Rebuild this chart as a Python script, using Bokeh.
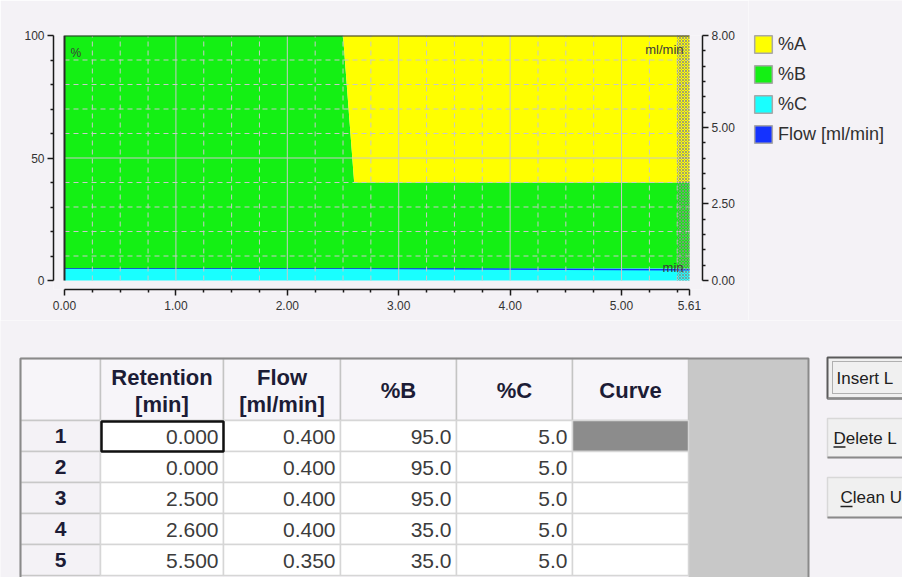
from bokeh.plotting import figure
from bokeh.models import (Range1d, LinearAxis, FixedTicker, PrintfTickFormatter,
                          Legend, LegendItem, Label, ColumnDataSource, Plot)
from bokeh.layouts import column, row
from bokeh.embed import file_html
from bokeh.resources import INLINE
from bokeh.core.properties import value

# ---------------- data ----------------
retention = [0.000, 0.000, 2.500, 2.600, 5.500]
flow = [0.400, 0.400, 0.400, 0.400, 0.350]
pct_b = [95.0, 95.0, 95.0, 35.0, 35.0]
pct_c = [5.0, 5.0, 5.0, 5.0, 5.0]
curve = ["", "", "", "", ""]
end_time = 5.61
pct_max = 100.0
flow_max = 8.0

series_names = ["%A", "%B", "%C", "Flow [ml/min]"]
header_labels = ["", "Retention\n[min]", "Flow\n[ml/min]", "%B", "%C", "Curve"]
button_labels = ["Insert L", "Delete L", "Clean U"]

x_ticks = [0, 1, 2, 3, 4, 5, 5.61]
x_grid = [1, 2, 3, 4, 5]
x_minor = [0.25, 0.5, 0.75, 1.25, 1.5, 1.75, 2.25, 2.5, 2.75, 3.25, 3.5, 3.75,
           4.25, 4.5, 4.75, 5.25, 5.5]
y_ticks = [0, 50, 100]
y_grid = [50]
y_minor = [10, 20, 30, 40, 60, 70, 80, 90]
flow_ticks = [0, 2.5, 5.0, 8.0]
flow_minor = [0.5, 1.0, 1.5, 2.0, 3.0, 3.5, 4.0, 4.5, 5.5, 6.0, 6.5, 7.0, 7.5]

# ---------------- styles / layout ----------------
BG = "#F4F2F6"
C_A, C_B, C_C, C_FLOW = "#FFFF00", "#14F014", "#19FFFF", "#1432FF"
GRID = "#C8C8C8"
FONT = value("Liberation Sans")
NAN = float("nan")
W = 902
H1 = 320
H2 = 577 - H1
W1 = 748
frame_left, frame_right = 53, 702
frame_top, frame_bottom = 35, 289
pad_left, pad_right, pad_bottom = 11, 13, 9
data_w = (frame_right - frame_left) - pad_left - pad_right
ppu_x = data_w / end_time
x_lo = -pad_left / ppu_x
x_hi = end_time + pad_right / ppu_x
data_h = (frame_bottom - frame_top) - pad_bottom
ppu_y = data_h / pct_max
y_lo = -pad_bottom / ppu_y

# extend to end time holding last values
t = retention + [end_time]
fl = flow + [flow[-1]]
b = pct_b + [pct_b[-1]]
c = pct_c + [pct_c[-1]]
b_top = [ci + bi for ci, bi in zip(c, b)]
src = ColumnDataSource(dict(t=t, zero=[0] * len(t), c_top=c, b_top=b_top,
                            a_top=[pct_max] * len(t), flow=fl))

p1 = figure(width=W1, height=H1, x_range=Range1d(x_lo, x_hi),
            y_range=Range1d(y_lo, pct_max), output_backend="svg",
            toolbar_location=None, min_border_left=frame_left,
            min_border_right=W1 - frame_right, min_border_top=frame_top,
            min_border_bottom=H1 - frame_bottom, background_fill_color=BG,
            border_fill_color=BG, outline_line_color=None)
p1.extra_y_ranges = {"flow": Range1d(y_lo * flow_max / pct_max, flow_max)}
p1.grid.visible = False

p1.varea(x="t", y1="zero", y2="c_top", source=src, fill_color=C_C)
p1.line(x="t", y="flow", source=src, line_color=C_FLOW, line_width=1.5,
        y_range_name="flow")
p1.varea(x="t", y1="c_top", y2="b_top", source=src, fill_color=C_B)
p1.varea(x="t", y1="b_top", y2="a_top", source=src, fill_color=C_A)

# grid lines limited to the data area
p1.segment(x0=x_grid, x1=x_grid, y0=[0] * len(x_grid), y1=[pct_max] * len(x_grid),
           line_color=GRID, line_width=1)
p1.segment(x0=x_minor, x1=x_minor, y0=[0] * len(x_minor), y1=[pct_max] * len(x_minor),
           line_color=GRID, line_width=1, line_dash="5 4")
p1.segment(x0=[0] * len(y_grid), x1=[end_time] * len(y_grid), y0=y_grid, y1=y_grid,
           line_color=GRID, line_width=1)
p1.segment(x0=[0] * len(y_minor), x1=[end_time] * len(y_minor), y0=y_minor, y1=y_minor,
           line_color=GRID, line_width=1, line_dash="5 4")

# post-run hatched region
p1.quad(left=[retention[-1]], right=[end_time], bottom=[0], top=[pct_max],
        fill_alpha=0, line_alpha=0, hatch_pattern="diagonal_cross",
        hatch_color="#8A8A8A", hatch_scale=3, hatch_weight=1, hatch_alpha=0.8)

# plot box border (left & top)
p1.line(x=[retention[0], retention[0], end_time], y=[0, pct_max, pct_max],
        line_color="#2A2A2A", line_width=2)

def style_axis(ax):
    ax.axis_line_color = "#1A1A1A"
    ax.axis_line_width = 1.5
    ax.major_tick_line_color = "#1A1A1A"
    ax.minor_tick_line_color = "#1A1A1A"
    ax.major_tick_line_width = 1.5
    ax.minor_tick_line_width = 1.5
    ax.major_tick_out = 6
    ax.major_tick_in = 0
    ax.minor_tick_out = 3
    ax.minor_tick_in = 0
    ax.major_label_text_font = "Liberation Sans"
    ax.major_label_text_font_size = "12px"
    ax.major_label_text_color = "#333333"
    ax.major_label_standoff = 3

xax = p1.below[0]
xax.ticker = FixedTicker(ticks=x_ticks, minor_ticks=x_minor)
xax.formatter = PrintfTickFormatter(format="%.2f")
xax.bounds = (0, end_time)
style_axis(xax)
xax.major_label_standoff = 5

yax = p1.left[0]
yax.ticker = FixedTicker(ticks=y_ticks, minor_ticks=y_minor)
yax.formatter = PrintfTickFormatter(format="%d")
yax.bounds = (0, pct_max)
style_axis(yax)

rax = LinearAxis(y_range_name="flow",
                 ticker=FixedTicker(ticks=flow_ticks, minor_ticks=flow_minor),
                 formatter=PrintfTickFormatter(format="%.2f"),
                 bounds=(0, flow_max))
style_axis(rax)
p1.add_layout(rax, "right")

lbl_style = dict(text_font="Liberation Sans", text_color="#3A3A3A")
p1.add_layout(Label(x=0, y=pct_max, text="%", x_offset=6, y_offset=-10,
                    text_baseline="top", text_font_size="12px", **lbl_style))
p1.add_layout(Label(x=end_time, y=pct_max, text="ml/min", x_offset=-6, y_offset=-6,
                    text_align="right", text_baseline="top",
                    text_font_size="13px", **lbl_style))
p1.add_layout(Label(x=end_time, y=0, text="min", x_offset=-6, y_offset=13,
                    text_align="right", text_baseline="alphabetic",
                    text_font_size="13px", **lbl_style))

# ---------------- legend (own small figure) ----------------
WL = W - W1
pleg = figure(width=WL, height=H1, x_range=Range1d(0, 1), y_range=Range1d(0, 1),
              output_backend="svg", toolbar_location=None, min_border=0,
              background_fill_color=BG, border_fill_color=BG, outline_line_color=None)
pleg.axis.visible = False
pleg.grid.visible = False
items = []
for name, col in zip(series_names, [C_A, C_B, C_C, C_FLOW]):
    r = pleg.quad(left=[NAN], right=[NAN], top=[NAN], bottom=[NAN], fill_color=col,
                  line_color="#A8A8A8", line_width=1.5)
    items.append(LegendItem(label=name, renderers=[r]))
glyph = 22
gap = 8
leg_h = len(series_names) * glyph + (len(series_names) - 1) * gap
legend = Legend(items=items, location=(752 - W1, H1 - 33 - leg_h), glyph_width=glyph,
                glyph_height=glyph, spacing=gap, label_standoff=4, padding=0,
                margin=0, border_line_color=None, background_fill_alpha=0,
                label_text_font_size="18px", label_text_font="Liberation Sans",
                label_text_color="#303030", label_height=glyph)
pleg.add_layout(legend, "center")

# ---------------- table ----------------
p2 = figure(width=W, height=H2, x_range=Range1d(0, W),
            y_range=Range1d(H1 + H2, H1), output_backend="svg",
            toolbar_location=None, min_border=0, background_fill_color=BG,
            border_fill_color=BG, outline_line_color=None)
p2.axis.visible = False
p2.grid.visible = False

col_edges = [20, 100, 223, 340, 456, 572, 688]
gray_right = 808
tbl_top = 358
hdr_bottom = 420
row_h = 31.0
n = len(retention)
row_top = [hdr_bottom + i * row_h for i in range(n)]
row_bot = [hdr_bottom + (i + 1) * row_h for i in range(n)]
row_mid = [hdr_bottom + (i + 0.5) * row_h for i in range(n)]
fig_bottom = H1 + H2

p2.quad(left=[col_edges[-1]], right=[gray_right], top=[tbl_top], bottom=[fig_bottom],
        fill_color="#C8C8C8", line_color=None)
p2.quad(left=col_edges[:-1], right=col_edges[1:], top=[tbl_top] * 6,
        bottom=[hdr_bottom] * 6, fill_color="#F7F5F9", line_color="#C4C4C4",
        line_width=1.5)
p2.quad(left=[col_edges[0]] * n, right=[col_edges[1]] * n, top=row_top,
        bottom=row_bot, fill_color=BG, line_color="#C8C8C8", line_width=1.5)
L, R, T, B, F = [], [], [], [], []
for j in range(1, 6):
    for i in range(n):
        L.append(col_edges[j]); R.append(col_edges[j + 1])
        T.append(row_top[i]); B.append(row_bot[i])
        F.append("#8C8C8C" if (j == 5 and i == 0) else "#FFFFFF")
p2.quad(left=L, right=R, top=T, bottom=B, fill_color=F, line_color="#D6D6D6",
        line_width=1.5)
p2.quad(left=[col_edges[1] + 1], right=[col_edges[2]], top=[row_top[0] + 1],
        bottom=[row_bot[0]], fill_alpha=0, line_color="#101010", line_width=2.5)
p2.line(x=[col_edges[0], col_edges[0], gray_right, gray_right],
        y=[fig_bottom, tbl_top, tbl_top, fig_bottom], line_color="#8A8A8A",
        line_width=2)

hx = [(col_edges[j] + col_edges[j + 1]) / 2 for j in range(6)]
p2.text(x=hx, y=[(tbl_top + hdr_bottom) / 2 + 1] * 6, text=header_labels,
        text_align="center", text_baseline="middle", text_line_height=1.08,
        text_font=FONT, text_font_style="bold", text_font_size="22px",
        text_color="#1C1C36")
p2.text(x=[hx[0]] * n, y=row_mid, text=[str(i + 1) for i in range(n)],
        text_align="center", text_baseline="middle", text_font=FONT,
        text_font_style="bold", text_font_size="21px", text_color="#1C1C36")
cols_text = [[f"{v:.3f}" for v in retention], [f"{v:.3f}" for v in flow],
             [f"{v:.1f}" for v in pct_b], [f"{v:.1f}" for v in pct_c], curve]
vx, vy, vt = [], [], []
for j, texts in enumerate(cols_text, start=1):
    for i, s in enumerate(texts):
        vx.append(col_edges[j + 1] - 5); vy.append(row_mid[i] + 1); vt.append(s)
p2.text(x=vx, y=vy, text=vt, text_align="right", text_baseline="middle",
        text_font=FONT, text_font_size="21px", text_color="#3C3C3C")

# buttons
btn_left = 827
btn_right = W + 20
btn_top = [357, 418, 477]
btn_bot = [398, 457, 517]
p2.quad(left=[btn_left] * 3, right=[btn_right] * 3, top=btn_top, bottom=btn_bot,
        fill_color="#F0F0F0", line_color=["#5A5A5A", "#D8D8D8", "#D8D8D8"],
        line_width=[2, 1.5, 1.5])
p2.segment(x0=[btn_left] * 3, x1=[btn_right] * 3, y0=btn_bot, y1=btn_bot,
           line_color="#8A8A8A", line_width=2)
p2.quad(left=[btn_left + 5], right=[btn_right], top=[btn_top[0] + 4],
        bottom=[btn_bot[0] - 5], fill_alpha=0, line_color="#707070",
        line_width=1, line_dash="1 1")
btn_tx = [836, 833, 840]
btn_mid = [(a + bb) / 2 for a, bb in zip(btn_top, btn_bot)]
p2.text(x=btn_tx, y=btn_mid, text=button_labels, text_align="left",
        text_baseline="middle", text_font=FONT, text_font_size="17px",
        text_color="#202020")
p2.segment(x0=[btn_tx[1], btn_tx[2]], x1=[btn_tx[1] + 12, btn_tx[2] + 12],
           y0=[btn_mid[1] + 9, btn_mid[2] + 9], y1=[btn_mid[1] + 9, btn_mid[2] + 9],
           line_color="#202020", line_width=1.5)

if "frame_align" in Plot.properties():
    for f in (p1, pleg, p2):
        f.frame_align = False
roots = column(row(p1, pleg, spacing=0), p2, spacing=0)
open("out.html", "w").write(file_html(roots, INLINE))
